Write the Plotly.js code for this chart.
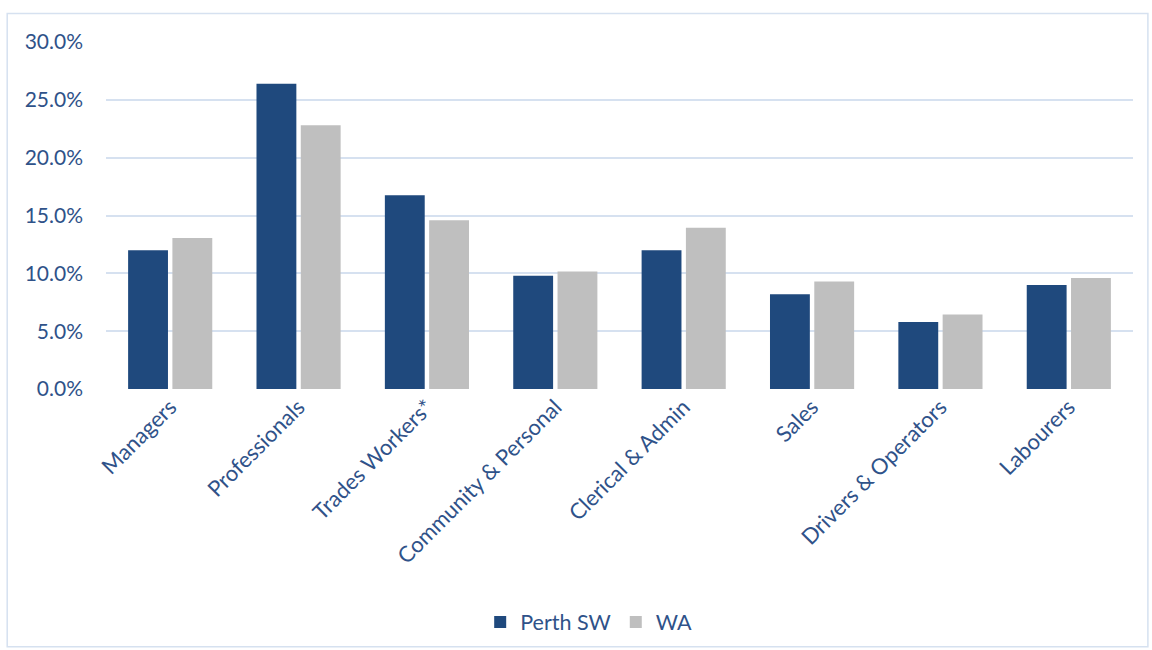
<!DOCTYPE html>
<html>
<head>
<meta charset="utf-8">
<script src="https://cdn.plot.ly/plotly-3.0.1.min.js"></script>
<style>html,body{margin:0;padding:0;background:#fff;}#chart{width:1152px;height:650px;}</style>
</head>
<body>
<div id="chart"></div>
<script>
const categories = ["Managers", "Professionals", "Trades Workers*", "Community & Personal", "Clerical & Admin", "Sales", "Drivers & Operators", "Labourers"];
const perthSW = [12.0, 26.4, 16.75, 9.8, 12.0, 8.2, 5.8, 9.0];
const wa = [13.05, 22.8, 14.6, 10.15, 13.95, 9.3, 6.45, 9.6];
const yTicks = [0, 5, 10, 15, 20, 25, 30];

const textColor = "#2F5289";
const fontFam = "Lato, 'Open Sans', sans-serif";

const traces = [
  {type: "bar", name: "Perth SW", x: categories, y: perthSW, marker: {color: "#1F497D"}},
  {type: "bar", name: "WA", x: categories, y: wa, marker: {color: "#BFBFBF"}}
];

const layout = {
  width: 1152, height: 650,
  margin: {l: 106, r: 18.5, t: 41.5, b: 261, autoexpand: false},
  paper_bgcolor: "#ffffff", plot_bgcolor: "#ffffff",
  barmode: "group", bargap: 0.31, bargroupgap: 0.1,
  font: {family: fontFam, color: textColor, size: 21},
  showlegend: true,
  legend: {orientation: "h", xref: "paper", x: 0.47, xanchor: "center", yref: "container", y: 0.043, yanchor: "middle", bgcolor: "rgba(0,0,0,0)", font: {size: 21.5, color: textColor}, itemwidth: 30, traceorder: "normal"},
  xaxis: {tickangle: -45, automargin: false, showgrid: false, zeroline: false, showline: false, ticks: "", tickfont: {size: 22, color: textColor}},
  yaxis: {range: [0, 30], automargin: false, tickvals: yTicks, ticktext: yTicks.map(v => v.toFixed(1) + "%"), gridcolor: "#D6E1F0", gridwidth: 2, zeroline: false, showline: false, ticks: "", ticklabelstandoff: 22, tickfont: {size: 21, color: textColor}},
  shapes: [
    {type: "rect", xref: "paper", yref: "paper", x0: -0.0962, x1: 1.0145, y0: 1.082, y1: -0.743, line: {color: "#D6E1F0", width: 1.5}, fillcolor: "rgba(0,0,0,0)", layer: "below"}
  ]
};

Plotly.newPlot("chart", traces, layout, {displayModeBar: false, staticPlot: true});
</script>
</body>
</html>
